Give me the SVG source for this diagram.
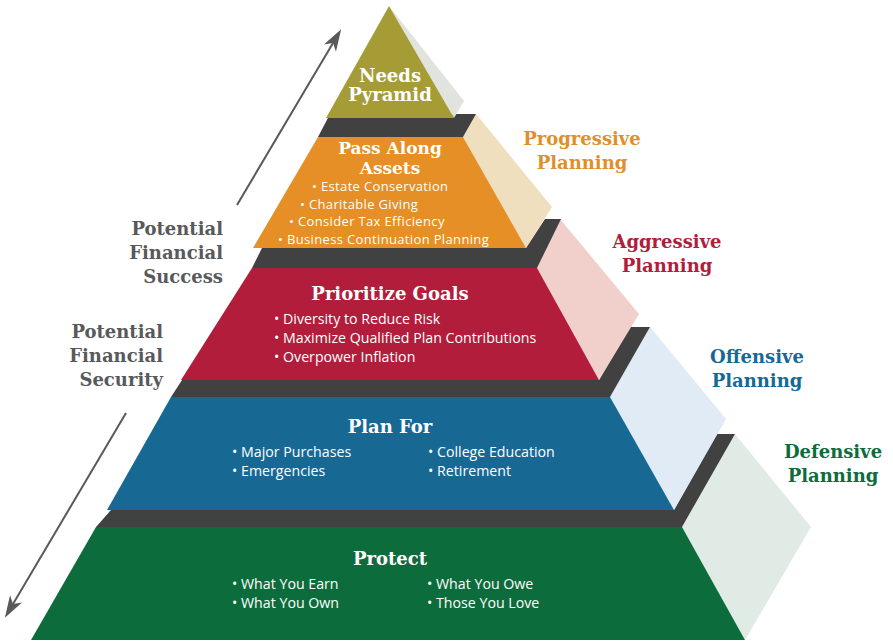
<svg xmlns="http://www.w3.org/2000/svg" width="893" height="643" viewBox="0 0 893 643">
<defs>
<marker id="ah" markerUnits="userSpaceOnUse" viewBox="-1 -8 24 16" refX="6" refY="0" markerWidth="24" markerHeight="16" orient="auto">
<path d="M22,0 L0,-7 L6,0 L0,7 Z" fill="#58595b"/>
</marker>
<style>
.band{fill:#414141}
.h{font-family:"DejaVu Serif",serif;font-weight:bold;font-size:18px;fill:#fff;text-anchor:middle}
.h2{font-size:17px}
.b{font-family:"Open Sans",sans-serif;font-size:14.2px;fill:#fff}
.bs{font-size:13px;letter-spacing:0.35px}
.lab{font-family:"DejaVu Serif",serif;font-weight:bold;font-size:18px;text-anchor:middle}
.side{font-family:"DejaVu Serif",serif;font-weight:bold;font-size:18px;fill:#58595b;text-anchor:end}
.arr{stroke:#58595b;stroke-width:2;fill:none;marker-end:url(#ah)}
</style>
</defs>
<rect width="893" height="643" fill="#fff"/>

<g id="connectors">
<line class="arr" x1="237" y1="205" x2="333" y2="43"/>
<line class="arr" x1="126" y1="413" x2="13" y2="604"/>
</g>

<g id="tier-protect">
<polygon points="735,434 811,527 745,640 682,527" fill="#e1ebe5"/>
<polygon class="band" points="111,510 674,510 717,434 735,434 682,527 96,527"/>
<polygon points="96,527 682,527 745,640 31,640" fill="#0d6c3c"/>
<text class="h" x="390" y="565">Protect</text>
<text class="b" x="232" y="589">• What You Earn</text>
<text class="b" x="232" y="608">• What You Own</text>
<text class="b" x="427" y="589">• What You Owe</text>
<text class="b" x="427" y="608">• Those You Love</text>
</g>

<g id="tier-planfor">
<polygon points="650,327 726,419 674,510 610,397" fill="#e1ebf5"/>
<polygon class="band" points="182,380 599,380 630,327 650,327 610,397 171,397"/>
<polygon points="171,397 610,397 674,510 107,510" fill="#176994"/>
<text class="h" x="390" y="433">Plan For</text>
<text class="b" x="232" y="457">• Major Purchases</text>
<text class="b" x="232" y="476">• Emergencies</text>
<text class="b" x="428" y="457">• College Education</text>
<text class="b" x="428" y="476">• Retirement</text>
</g>

<g id="tier-prioritize">
<polygon points="560,219 639,314 599,380 537,268" fill="#f1cfca"/>
<polygon class="band" points="262,248 526,248 545,219 561,219 537,268 252,268"/>
<polygon points="252,268 537,268 599,380 181,380" fill="#b11d3b"/>
<text class="h" x="390" y="300">Prioritize Goals</text>
<text class="b" x="274" y="324">• Diversity to Reduce Risk</text>
<text class="b" x="274" y="343">• Maximize Qualified Plan Contributions</text>
<text class="b" x="274" y="362">• Overpower Inflation</text>
</g>

<g id="tier-pass">
<polygon points="476,114 552,207 526,248 463,137" fill="#efdfbe"/>
<polygon class="band" points="330,114 476,114 463,137 318,137"/>
<polygon points="318,137 463,137 526,248 253,248" fill="#e58f26"/>
<text class="h h2" x="390" y="154">Pass Along</text>
<text class="h h2" x="390" y="174">Assets</text>
<text class="b bs" x="312" y="191">• Estate Conservation</text>
<text class="b bs" x="300" y="208.7">• Charitable Giving</text>
<text class="b bs" x="289" y="226.4">• Consider Tax Efficiency</text>
<text class="b bs" x="278" y="244.1">• Business Continuation Planning</text>
</g>

<g id="tier-needs">
<polygon points="389,6 464,101 454,118" fill="#e0e3de"/>
<polygon points="389,6 454,118 326,118" fill="#a69c36"/>
<text class="h" x="390" y="82">Needs</text>
<text class="h" x="390" y="101">Pyramid</text>
</g>

<g id="label-progressive">
<text class="lab" fill="#e08f2b" x="582" y="145">Progressive</text>
<text class="lab" fill="#e08f2b" x="582" y="169">Planning</text>
</g>
<g id="label-aggressive">
<text class="lab" fill="#b11d3b" x="667" y="248">Aggressive</text>
<text class="lab" fill="#b11d3b" x="667" y="272">Planning</text>
</g>
<g id="label-offensive">
<text class="lab" fill="#176994" x="757" y="363">Offensive</text>
<text class="lab" fill="#176994" x="757" y="387">Planning</text>
</g>
<g id="label-defensive">
<text class="lab" fill="#0d6c3c" x="833" y="458">Defensive</text>
<text class="lab" fill="#0d6c3c" x="833" y="482">Planning</text>
</g>

<g id="label-success">
<text class="side" x="223" y="235">Potential</text>
<text class="side" x="223" y="259">Financial</text>
<text class="side" x="223" y="283">Success</text>
</g>
<g id="label-security">
<text class="side" x="163" y="338">Potential</text>
<text class="side" x="163" y="362">Financial</text>
<text class="side" x="163" y="386">Security</text>
</g>
</svg>
